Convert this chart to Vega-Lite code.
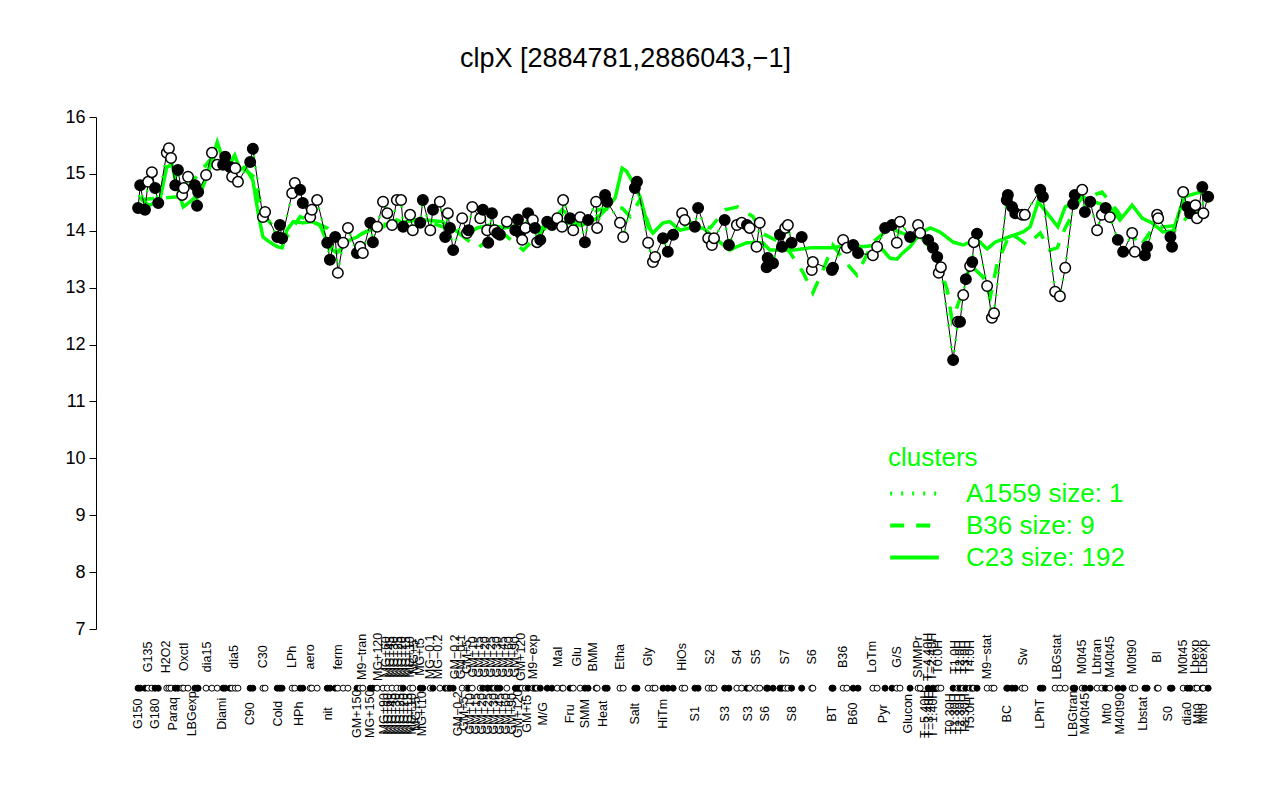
{
"$schema": "https://vega.github.io/schema/vega-lite/v6.json",
"width": 1135, "height": 512,
"autosize": {"type": "none"},
"padding": {"left": 96, "top": 117, "right": 49, "bottom": 171},
"background": "white",
"title": {"text": "clpX [2884781,2886043,−1]", "fontSize": 27, "font": "Liberation Sans", "fontWeight": "normal", "anchor": "middle", "dx": -38, "offset": 35, "color": "black"},
"config": {
 "view": {"stroke": null},
 "font": "Liberation Sans",
 "axisY": {"tickSize": 7, "labelFontSize": 18, "labelColor": "black", "tickColor": "black", "domainColor": "black", "grid": false, "labelPadding": 4, "title": null, "labelFont": "Liberation Sans"}
},
"datasets": {
 "pts": [
{"x":1.2,"v":14.40,"f":"f"},{"x":1.6,"v":14.80,"f":"f"},{"x":2.5,"v":14.37,"f":"f"},{"x":3.1,"v":14.86,"f":"o"},{"x":3.8,"v":15.03,"f":"o"},{"x":4.4,"v":14.75,"f":"f"},{"x":5.0,"v":14.49,"f":"f"},{"x":6.6,"v":15.37,"f":"o"},{"x":7.0,"v":15.45,"f":"o"},{"x":7.4,"v":15.28,"f":"o"},{"x":8.2,"v":14.80,"f":"f"},{"x":8.7,"v":15.07,"f":"f"},{"x":9.5,"v":14.63,"f":"o"},{"x":9.8,"v":14.75,"f":"o"},{"x":10.6,"v":14.95,"f":"o"},{"x":11.9,"v":14.80,"f":"f"},{"x":12.3,"v":14.44,"f":"f"},{"x":12.5,"v":14.68,"f":"f"},{"x":14.0,"v":14.98,"f":"o"},{"x":15.1,"v":15.37,"f":"o"},{"x":16.1,"v":15.16,"f":"o"},{"x":17.2,"v":15.16,"f":"f"},{"x":17.6,"v":15.30,"f":"f"},{"x":18.5,"v":15.12,"f":"f"},{"x":18.9,"v":14.95,"f":"o"},{"x":19.5,"v":15.10,"f":"o"},{"x":20.0,"v":14.86,"f":"o"},{"x":22.3,"v":15.21,"f":"f"},{"x":22.8,"v":15.44,"f":"f"},{"x":24.7,"v":14.24,"f":"o"},{"x":25.1,"v":14.33,"f":"o"},{"x":27.4,"v":13.89,"f":"f"},{"x":27.9,"v":14.10,"f":"f"},{"x":28.3,"v":13.87,"f":"f"},{"x":30.2,"v":14.66,"f":"o"},{"x":30.7,"v":14.84,"f":"o"},{"x":31.7,"v":14.72,"f":"f"},{"x":32.2,"v":14.49,"f":"f"},{"x":33.6,"v":14.24,"f":"o"},{"x":33.9,"v":14.37,"f":"o"},{"x":34.9,"v":14.54,"f":"o"},{"x":36.8,"v":13.79,"f":"f"},{"x":37.3,"v":13.49,"f":"f"},{"x":38.3,"v":13.89,"f":"f"},{"x":38.8,"v":13.26,"f":"o"},{"x":39.8,"v":13.79,"f":"o"},{"x":40.7,"v":14.05,"f":"o"},{"x":42.4,"v":13.61,"f":"f"},{"x":43.0,"v":13.72,"f":"o"},{"x":43.5,"v":13.61,"f":"o"},{"x":44.9,"v":14.14,"f":"f"},{"x":45.4,"v":13.80,"f":"f"},{"x":46.2,"v":14.07,"f":"o"},{"x":47.3,"v":14.51,"f":"o"},{"x":48.1,"v":14.31,"f":"o"},{"x":49.0,"v":14.10,"f":"o"},{"x":49.9,"v":14.54,"f":"o"},
{"x":50.7,"v":14.54,"f":"o"},{"x":51.1,"v":14.07,"f":"f"},{"x":52.4,"v":14.28,"f":"o"},{"x":52.9,"v":14.01,"f":"o"},{"x":54.3,"v":14.14,"f":"f"},{"x":54.8,"v":14.54,"f":"f"},{"x":56.2,"v":14.01,"f":"o"},{"x":56.7,"v":14.37,"f":"f"},{"x":58.0,"v":14.51,"f":"o"},{"x":59.0,"v":13.89,"f":"f"},{"x":59.5,"v":14.31,"f":"o"},{"x":59.9,"v":14.05,"f":"f"},{"x":60.5,"v":13.66,"f":"f"},{"x":62.2,"v":14.22,"f":"o"},{"x":63.1,"v":13.96,"f":"o"},{"x":63.4,"v":14.01,"f":"f"},{"x":64.1,"v":14.42,"f":"o"},{"x":65.6,"v":14.22,"f":"o"},{"x":66.1,"v":14.37,"f":"f"},{"x":66.9,"v":14.01,"f":"o"},{"x":67.1,"v":13.79,"f":"f"},{"x":67.8,"v":14.31,"f":"f"},{"x":68.3,"v":14.01,"f":"o"},{"x":68.8,"v":13.96,"f":"f"},{"x":69.3,"v":13.93,"f":"f"},{"x":70.6,"v":14.16,"f":"o"},{"x":72.2,"v":14.01,"f":"f"},{"x":72.7,"v":14.20,"f":"f"},{"x":73.1,"v":13.96,"f":"f"},{"x":73.5,"v":13.84,"f":"o"},{"x":74.1,"v":14.05,"f":"o"},{"x":74.6,"v":14.31,"f":"f"},{"x":75.5,"v":14.19,"f":"o"},{"x":75.9,"v":14.05,"f":"f"},{"x":76.3,"v":13.80,"f":"o"},{"x":76.9,"v":13.84,"f":"f"},{"x":78.2,"v":14.16,"f":"f"},{"x":79.1,"v":14.10,"f":"f"},{"x":80.1,"v":14.22,"f":"o"},{"x":81.0,"v":14.07,"f":"o"},{"x":81.2,"v":14.54,"f":"o"},{"x":82.5,"v":14.22,"f":"f"},{"x":83.1,"v":14.01,"f":"o"},{"x":84.4,"v":14.24,"f":"o"},{"x":85.3,"v":13.80,"f":"f"},{"x":85.9,"v":14.19,"f":"f"},{"x":87.4,"v":14.51,"f":"o"},{"x":87.6,"v":14.05,"f":"o"},{"x":89.1,"v":14.63,"f":"f"},{"x":89.5,"v":14.51,"f":"f"},{"x":91.9,"v":14.14,"f":"o"},{"x":92.5,"v":13.89,"f":"o"},{"x":94.7,"v":14.75,"f":"f"},{"x":95.1,"v":14.86,"f":"f"},{"x":97.2,"v":13.79,"f":"o"},{"x":98.1,"v":13.45,"f":"o"},{"x":98.5,"v":13.54,"f":"o"},{"x":100.0,"v":13.87,"f":"f"},{"x":100.9,"v":13.63,"f":"f"},
{"x":101.9,"v":13.93,"f":"f"},{"x":103.6,"v":14.31,"f":"o"},{"x":104.1,"v":14.19,"f":"o"},{"x":106.0,"v":14.07,"f":"f"},{"x":106.6,"v":14.40,"f":"f"},{"x":108.5,"v":13.87,"f":"o"},{"x":109.2,"v":13.75,"f":"o"},{"x":109.6,"v":13.87,"f":"o"},{"x":111.6,"v":14.19,"f":"f"},{"x":112.4,"v":13.75,"f":"f"},{"x":113.9,"v":14.10,"f":"o"},{"x":114.8,"v":14.14,"f":"o"},{"x":115.8,"v":14.10,"f":"f"},{"x":116.3,"v":14.05,"f":"o"},{"x":117.6,"v":13.72,"f":"o"},{"x":118.2,"v":14.14,"f":"o"},{"x":119.5,"v":13.36,"f":"f"},{"x":119.7,"v":13.52,"f":"f"},{"x":120.7,"v":13.43,"f":"f"},{"x":122.0,"v":13.93,"f":"f"},{"x":122.4,"v":13.72,"f":"f"},{"x":123.0,"v":14.05,"f":"o"},{"x":123.5,"v":14.10,"f":"o"},{"x":124.2,"v":13.79,"f":"f"},{"x":126.1,"v":13.89,"f":"f"},{"x":128.0,"v":13.31,"f":"o"},{"x":128.2,"v":13.45,"f":"o"},{"x":131.8,"v":13.31,"f":"f"},{"x":132.0,"v":13.35,"f":"f"},{"x":133.9,"v":13.84,"f":"o"},{"x":134.6,"v":13.70,"f":"o"},{"x":135.8,"v":13.75,"f":"f"},{"x":136.7,"v":13.61,"f":"f"},{"x":139.5,"v":13.57,"f":"o"},{"x":140.3,"v":13.72,"f":"o"},{"x":141.8,"v":14.05,"f":"f"},{"x":143.1,"v":14.10,"f":"f"},{"x":144.0,"v":13.79,"f":"o"},{"x":144.6,"v":14.16,"f":"o"},{"x":146.5,"v":13.89,"f":"f"},{"x":148.0,"v":14.10,"f":"o"},{"x":148.4,"v":13.96,"f":"o"},{"x":149.9,"v":13.84,"f":"f"},{"x":150.8,"v":13.70,"f":"f"},{"x":151.6,"v":13.54,"f":"f"},{"x":151.9,"v":13.26,"f":"o"},{"x":152.3,"v":13.36,"f":"o"},
{"x":154.6,"v":11.73,"f":"f"},{"x":155.5,"v":12.40,"f":"o"},{"x":155.9,"v":12.40,"f":"f"},{"x":156.5,"v":12.87,"f":"o"},{"x":157.0,"v":13.15,"f":"f"},{"x":157.8,"v":13.38,"f":"o"},{"x":158.2,"v":13.45,"f":"f"},{"x":158.5,"v":13.80,"f":"o"},{"x":159.1,"v":13.95,"f":"f"},{"x":161.0,"v":13.03,"f":"o"},{"x":161.9,"v":12.47,"f":"o"},{"x":162.3,"v":12.55,"f":"o"},{"x":164.7,"v":14.54,"f":"f"},{"x":164.9,"v":14.63,"f":"f"},{"x":165.7,"v":14.42,"f":"f"},{"x":166.3,"v":14.31,"f":"f"},{"x":167.6,"v":14.28,"f":"o"},{"x":168.1,"v":14.28,"f":"o"},{"x":171.0,"v":14.72,"f":"f"},{"x":171.5,"v":14.60,"f":"f"},{"x":173.8,"v":12.93,"f":"o"},{"x":174.7,"v":12.85,"f":"o"},{"x":175.7,"v":13.35,"f":"o"},{"x":177.2,"v":14.47,"f":"f"},{"x":177.5,"v":14.63,"f":"f"},{"x":178.9,"v":14.72,"f":"o"},{"x":179.4,"v":14.33,"f":"f"},{"x":180.4,"v":14.51,"f":"f"},{"x":181.7,"v":14.01,"f":"o"},{"x":182.6,"v":14.28,"f":"o"},{"x":183.3,"v":14.40,"f":"f"},{"x":184.1,"v":14.24,"f":"o"},{"x":185.6,"v":13.84,"f":"f"},{"x":186.6,"v":13.63,"f":"f"},{"x":188.3,"v":13.96,"f":"o"},{"x":188.8,"v":13.63,"f":"o"},{"x":190.7,"v":13.57,"f":"f"},{"x":191.1,"v":13.72,"f":"f"},{"x":193.0,"v":14.28,"f":"o"},{"x":193.2,"v":14.22,"f":"o"},{"x":195.5,"v":13.89,"f":"f"},{"x":195.8,"v":13.72,"f":"f"},{"x":197.9,"v":14.68,"f":"o"},{"x":198.7,"v":14.42,"f":"f"},{"x":199.2,"v":14.31,"f":"f"},{"x":200.2,"v":14.45,"f":"o"},{"x":200.5,"v":14.22,"f":"o"},{"x":201.5,"v":14.77,"f":"f"},{"x":201.7,"v":14.31,"f":"o"},{"x":202.6,"v":14.60,"f":"f"}
 ],
 "gl": [
{"x":1.6,"v":14.59,"c":"C23 size: 192"},{"x":2.5,"v":14.49,"c":"C23 size: 192"},{"x":3.4,"v":14.45,"c":"C23 size: 192"},{"x":5.3,"v":14.54,"c":"C23 size: 192"},{"x":6.6,"v":15.12,"c":"C23 size: 192"},{"x":7.6,"v":15.16,"c":"C23 size: 192"},{"x":8.5,"v":14.77,"c":"C23 size: 192"},{"x":9.7,"v":14.42,"c":"C23 size: 192"},{"x":11.4,"v":14.54,"c":"C23 size: 192"},{"x":13.2,"v":14.72,"c":"C23 size: 192"},{"x":14.4,"v":15.03,"c":"C23 size: 192"},{"x":16.1,"v":15.56,"c":"C23 size: 192"},{"x":17.0,"v":15.30,"c":"C23 size: 192"},{"x":18.5,"v":15.19,"c":"C23 size: 192"},{"x":19.4,"v":15.33,"c":"C23 size: 192"},{"x":20.4,"v":15.07,"c":"C23 size: 192"},{"x":21.3,"v":15.12,"c":"C23 size: 192"},{"x":22.8,"v":14.89,"c":"C23 size: 192"},{"x":23.8,"v":14.31,"c":"C23 size: 192"},{"x":24.7,"v":13.89,"c":"C23 size: 192"},{"x":26.0,"v":13.80,"c":"C23 size: 192"},{"x":27.4,"v":13.72,"c":"C23 size: 192"},{"x":28.3,"v":13.70,"c":"C23 size: 192"},{"x":29.2,"v":14.01,"c":"C23 size: 192"},{"x":30.4,"v":14.16,"c":"C23 size: 192"},{"x":32.2,"v":14.14,"c":"C23 size: 192"},{"x":33.9,"v":14.16,"c":"C23 size: 192"},{"x":35.4,"v":14.10,"c":"C23 size: 192"},{"x":36.4,"v":13.89,"c":"C23 size: 192"},{"x":37.3,"v":13.70,"c":"C23 size: 192"},{"x":38.6,"v":13.61,"c":"C23 size: 192"},{"x":39.8,"v":13.72,"c":"C23 size: 192"},{"x":41.1,"v":13.84,"c":"C23 size: 192"},{"x":42.4,"v":13.89,"c":"C23 size: 192"},{"x":43.5,"v":13.96,"c":"C23 size: 192"},{"x":44.9,"v":14.01,"c":"C23 size: 192"},{"x":47.3,"v":14.07,"c":"C23 size: 192"},{"x":49.9,"v":14.19,"c":"C23 size: 192"},{"x":50.9,"v":14.15,"c":"C23 size: 192"},{"x":54.3,"v":14.20,"c":"C23 size: 192"},{"x":58.4,"v":14.16,"c":"C23 size: 192"},{"x":60.9,"v":14.01,"c":"C23 size: 192"},{"x":62.7,"v":13.90,"c":"C23 size: 192"},{"x":65.0,"v":14.05,"c":"C23 size: 192"},{"x":67.4,"v":14.10,"c":"C23 size: 192"},{"x":70.2,"v":14.05,"c":"C23 size: 192"},{"x":73.1,"v":14.10,"c":"C23 size: 192"},{"x":76.9,"v":14.05,"c":"C23 size: 192"},{"x":81.2,"v":14.15,"c":"C23 size: 192"},{"x":84.8,"v":14.10,"c":"C23 size: 192"},{"x":87.6,"v":14.22,"c":"C23 size: 192"},{"x":89.5,"v":14.40,"c":"C23 size: 192"},{"x":91.0,"v":14.58,"c":"C23 size: 192"},{"x":92.3,"v":15.10,"c":"C23 size: 192"},{"x":93.1,"v":15.05,"c":"C23 size: 192"},{"x":94.4,"v":14.84,"c":"C23 size: 192"},{"x":95.7,"v":14.59,"c":"C23 size: 192"},{"x":97.2,"v":14.07,"c":"C23 size: 192"},{"x":98.1,"v":13.96,"c":"C23 size: 192"},{"x":100.0,"v":14.14,"c":"C23 size: 192"},{"x":101.3,"v":14.16,"c":"C23 size: 192"},{"x":103.2,"v":14.01,"c":"C23 size: 192"},{"x":105.1,"v":14.05,"c":"C23 size: 192"},{"x":107.5,"v":14.05,"c":"C23 size: 192"},{"x":110.7,"v":13.80,"c":"C23 size: 192"},{"x":112.6,"v":13.66,"c":"C23 size: 192"},{"x":113.9,"v":13.72,"c":"C23 size: 192"},{"x":115.8,"v":13.79,"c":"C23 size: 192"},{"x":118.8,"v":13.79,"c":"C23 size: 192"},{"x":120.1,"v":13.66,"c":"C23 size: 192"},{"x":122.0,"v":13.66,"c":"C23 size: 192"},{"x":124.5,"v":13.66,"c":"C23 size: 192"},{"x":127.7,"v":13.70,"c":"C23 size: 192"},{"x":132.0,"v":13.70,"c":"C23 size: 192"},{"x":134.6,"v":13.75,"c":"C23 size: 192"},{"x":137.6,"v":13.72,"c":"C23 size: 192"},{"x":140.3,"v":13.75,"c":"C23 size: 192"},{"x":141.4,"v":13.66,"c":"C23 size: 192"},{"x":142.7,"v":13.52,"c":"C23 size: 192"},{"x":144.0,"v":13.50,"c":"C23 size: 192"},{"x":145.1,"v":13.61,"c":"C23 size: 192"},{"x":146.5,"v":13.72,"c":"C23 size: 192"},{"x":148.4,"v":13.96,"c":"C23 size: 192"},{"x":150.3,"v":14.05,"c":"C23 size: 192"},{"x":152.1,"v":13.98,"c":"C23 size: 192"},{"x":154.6,"v":13.80,"c":"C23 size: 192"},{"x":156.5,"v":13.75,"c":"C23 size: 192"},{"x":159.1,"v":13.85,"c":"C23 size: 192"},{"x":161.0,"v":13.68,"c":"C23 size: 192"},{"x":162.5,"v":13.80,"c":"C23 size: 192"},{"x":165.3,"v":13.90,"c":"C23 size: 192"},{"x":167.8,"v":13.98,"c":"C23 size: 192"},{"x":169.1,"v":14.07,"c":"C23 size: 192"},{"x":170.6,"v":14.51,"c":"C23 size: 192"},{"x":172.3,"v":14.31,"c":"C23 size: 192"},{"x":174.3,"v":14.07,"c":"C23 size: 192"},{"x":175.7,"v":14.42,"c":"C23 size: 192"},{"x":178.9,"v":14.60,"c":"C23 size: 192"},{"x":181.7,"v":14.49,"c":"C23 size: 192"},{"x":184.1,"v":14.42,"c":"C23 size: 192"},{"x":186.0,"v":14.19,"c":"C23 size: 192"},{"x":188.3,"v":14.45,"c":"C23 size: 192"},{"x":190.2,"v":14.22,"c":"C23 size: 192"},{"x":192.0,"v":14.14,"c":"C23 size: 192"},{"x":194.1,"v":13.98,"c":"C23 size: 192"},{"x":196.0,"v":14.00,"c":"C23 size: 192"},{"x":197.3,"v":14.37,"c":"C23 size: 192"},{"x":198.2,"v":14.60,"c":"C23 size: 192"},{"x":201.1,"v":14.68,"c":"C23 size: 192"},{"x":202.6,"v":14.60,"c":"C23 size: 192"},
{"x":1.6,"v":14.55,"c":"B36 size: 9"},{"x":9.1,"v":14.60,"c":"B36 size: 9"},{"x":16.1,"v":15.40,"c":"B36 size: 9"},{"x":20.4,"v":15.15,"c":"B36 size: 9"},{"x":23.2,"v":14.93,"c":"B36 size: 9"},{"x":24.5,"v":14.30,"c":"B36 size: 9"},{"x":28.9,"v":13.85,"c":"B36 size: 9"},{"x":31.7,"v":14.25,"c":"B36 size: 9"},{"x":36.8,"v":14.05,"c":"B36 size: 9"},{"x":40.2,"v":13.80,"c":"B36 size: 9"},{"x":46.7,"v":14.10,"c":"B36 size: 9"},{"x":54.3,"v":14.20,"c":"B36 size: 9"},{"x":60.9,"v":14.00,"c":"B36 size: 9"},{"x":65.2,"v":13.70,"c":"B36 size: 9"},{"x":69.3,"v":14.00,"c":"B36 size: 9"},{"x":73.7,"v":13.66,"c":"B36 size: 9"},{"x":77.8,"v":14.05,"c":"B36 size: 9"},{"x":81.0,"v":14.37,"c":"B36 size: 9"},{"x":84.4,"v":14.10,"c":"B36 size: 9"},{"x":87.8,"v":14.37,"c":"B36 size: 9"},{"x":92.3,"v":14.40,"c":"B36 size: 9"},{"x":93.8,"v":14.25,"c":"B36 size: 9"},{"x":95.7,"v":14.55,"c":"B36 size: 9"},{"x":97.9,"v":13.95,"c":"B36 size: 9"},{"x":100.4,"v":13.90,"c":"B36 size: 9"},{"x":105.1,"v":14.15,"c":"B36 size: 9"},{"x":108.9,"v":14.05,"c":"B36 size: 9"},{"x":111.7,"v":14.37,"c":"B36 size: 9"},{"x":114.1,"v":14.42,"c":"B36 size: 9"},{"x":116.9,"v":14.25,"c":"B36 size: 9"},{"x":118.8,"v":13.95,"c":"B36 size: 9"},{"x":123.0,"v":13.75,"c":"B36 size: 9"},{"x":126.4,"v":13.26,"c":"B36 size: 9"},{"x":128.2,"v":12.91,"c":"B36 size: 9"},{"x":130.1,"v":13.31,"c":"B36 size: 9"},{"x":132.0,"v":13.75,"c":"B36 size: 9"},{"x":133.9,"v":13.50,"c":"B36 size: 9"},{"x":136.5,"v":13.22,"c":"B36 size: 9"},{"x":139.5,"v":13.80,"c":"B36 size: 9"},{"x":142.7,"v":14.05,"c":"B36 size: 9"},{"x":145.2,"v":13.95,"c":"B36 size: 9"},{"x":148.4,"v":13.90,"c":"B36 size: 9"},{"x":151.2,"v":13.60,"c":"B36 size: 9"},{"x":153.5,"v":12.96,"c":"B36 size: 9"},{"x":154.4,"v":12.43,"c":"B36 size: 9"},{"x":155.9,"v":12.80,"c":"B36 size: 9"},{"x":157.8,"v":13.40,"c":"B36 size: 9"},{"x":160.2,"v":13.19,"c":"B36 size: 9"},{"x":161.6,"v":12.84,"c":"B36 size: 9"},{"x":162.9,"v":13.43,"c":"B36 size: 9"},{"x":165.3,"v":13.95,"c":"B36 size: 9"},{"x":166.8,"v":13.87,"c":"B36 size: 9"},{"x":168.5,"v":13.75,"c":"B36 size: 9"},{"x":171.0,"v":13.96,"c":"B36 size: 9"},{"x":172.8,"v":13.66,"c":"B36 size: 9"},{"x":174.2,"v":13.70,"c":"B36 size: 9"},{"x":175.7,"v":14.05,"c":"B36 size: 9"},{"x":178.5,"v":14.54,"c":"B36 size: 9"},{"x":182.6,"v":14.68,"c":"B36 size: 9"},{"x":185.5,"v":14.35,"c":"B36 size: 9"},{"x":187.9,"v":14.00,"c":"B36 size: 9"},{"x":189.8,"v":13.72,"c":"B36 size: 9"},{"x":192.2,"v":14.05,"c":"B36 size: 9"},{"x":197.3,"v":14.10,"c":"B36 size: 9"},{"x":201.1,"v":14.50,"c":"B36 size: 9"}
 ],
 "labs": [
{"x":3.07,"t":"G135","r":"u"},{"x":6.46,"t":"H2O2","r":"u"},{"x":9.85,"t":"Oxctl","r":"u"},{"x":14.18,"t":"dia15","r":"u"},{"x":19.26,"t":"dia5","r":"u"},{"x":24.72,"t":"C30","r":"u"},{"x":30.17,"t":"LPh","r":"u"},{"x":33.56,"t":"aero","r":"u"},{"x":38.83,"t":"ferm","r":"u"},{"x":43.35,"t":"M9−tran","r":"u"},{"x":46.36,"t":"MG+120","r":"u"},{"x":47.87,"t":"MG+60","r":"u"},{"x":48.62,"t":"MG+45","r":"u"},{"x":49.37,"t":"MG+30","r":"u"},{"x":50.13,"t":"MG+25","r":"u"},{"x":50.88,"t":"MG+20","r":"u"},{"x":51.63,"t":"MG+15","r":"u"},{"x":52.39,"t":"MG+10","r":"u"},{"x":53.14,"t":"MG+5","r":"u"},{"x":54.27,"t":"MG+t5","r":"u"},{"x":56.15,"t":"MG−0.1","r":"u"},{"x":57.66,"t":"MG−0.2","r":"u"},{"x":60.85,"t":"GM−0.2","r":"u"},{"x":61.98,"t":"GM−0.1","r":"u"},{"x":63.11,"t":"GM+5","r":"u"},{"x":64.24,"t":"GM+10","r":"u"},{"x":65.37,"t":"GM+15","r":"u"},{"x":66.50,"t":"GM+20","r":"u"},{"x":67.63,"t":"GM+25","r":"u"},{"x":68.76,"t":"GM+30","r":"u"},{"x":69.89,"t":"GM+45","r":"u"},{"x":71.02,"t":"GM+60","r":"u"},{"x":72.15,"t":"GM+90","r":"u"},{"x":73.28,"t":"GM+120","r":"u"},{"x":75.54,"t":"M9−exp","r":"u"},{"x":80.24,"t":"Mal","r":"u"},{"x":83.82,"t":"Glu","r":"u"},{"x":86.83,"t":"BMM","r":"u"},{"x":91.91,"t":"Etha","r":"u"},{"x":97.18,"t":"Gly","r":"u"},{"x":103.58,"t":"HiOs","r":"u"},{"x":108.85,"t":"S2","r":"u"},{"x":113.93,"t":"S4","r":"u"},{"x":117.5,"t":"S5","r":"u"},{"x":122.97,"t":"S7","r":"u"},{"x":128.05,"t":"S6","r":"u"},{"x":133.88,"t":"B36","r":"u"},{"x":139.34,"t":"LoTm","r":"u"},{"x":144.05,"t":"G/S","r":"u"},{"x":148.0,"t":"SMMPr","r":"u"},{"x":149.88,"t":"T−4.40H","r":"u"},{"x":150.63,"t":"T−2.40H","r":"u"},{"x":151.76,"t":"T0.0H","r":"u"},{"x":154.96,"t":"T1.0H","r":"u"},{"x":155.9,"t":"T2.0H","r":"u"},{"x":156.84,"t":"T3.0H","r":"u"},{"x":157.79,"t":"T4.0H","r":"u"},{"x":160.99,"t":"M9−stat","r":"u"},{"x":167.77,"t":"Sw","r":"u"},{"x":174.17,"t":"LBGstat","r":"u"},{"x":178.87,"t":"M0t45","r":"u"},{"x":181.69,"t":"Lbtran","r":"u"},{"x":184.14,"t":"M40t45","r":"u"},{"x":188.28,"t":"M0t90","r":"u"},{"x":192.98,"t":"BI","r":"u"},{"x":197.88,"t":"M0t45","r":"u"},{"x":200.14,"t":"Lbexp","r":"u"},{"x":201.64,"t":"Lbexp","r":"u"},
{"x":1.19,"t":"G150","r":"l"},{"x":4.39,"t":"G180","r":"l"},{"x":7.78,"t":"Paraq","r":"l"},{"x":11.35,"t":"LBGexp","r":"l"},{"x":17.0,"t":"Diami","r":"l"},{"x":22.27,"t":"C90","r":"l"},{"x":27.54,"t":"Cold","r":"l"},{"x":31.49,"t":"HPh","r":"l"},{"x":36.95,"t":"nit","r":"l"},{"x":42.41,"t":"GM+150","r":"l"},{"x":44.86,"t":"MG+150","r":"l"},{"x":47.49,"t":"MG+90","r":"l"},{"x":48.24,"t":"MG+60","r":"l"},{"x":49.0,"t":"MG+45","r":"l"},{"x":49.75,"t":"MG+30","r":"l"},{"x":50.5,"t":"MG+25","r":"l"},{"x":51.25,"t":"MG+20","r":"l"},{"x":52.01,"t":"MG+15","r":"l"},{"x":52.76,"t":"MG+10","r":"l"},{"x":53.51,"t":"MG+5","r":"l"},{"x":54.64,"t":"MG+t10","r":"l"},{"x":61.42,"t":"GM−0.2","r":"l"},{"x":62.55,"t":"GM+5","r":"l"},{"x":63.68,"t":"GM+10","r":"l"},{"x":64.81,"t":"GM+15","r":"l"},{"x":65.94,"t":"GM+20","r":"l"},{"x":67.07,"t":"GM+25","r":"l"},{"x":68.19,"t":"GM+30","r":"l"},{"x":69.32,"t":"GM+45","r":"l"},{"x":70.45,"t":"GM+60","r":"l"},{"x":71.58,"t":"GM+90","r":"l"},{"x":72.71,"t":"GM+120","r":"l"},{"x":74.41,"t":"GM+t5","r":"l"},{"x":77.42,"t":"M/G","r":"l"},{"x":82.5,"t":"Fru","r":"l"},{"x":85.32,"t":"SMM","r":"l"},{"x":88.71,"t":"Heat","r":"l"},{"x":94.73,"t":"Salt","r":"l"},{"x":100.0,"t":"HiTm","r":"l"},{"x":106.02,"t":"S1","r":"l"},{"x":111.67,"t":"S3","r":"l"},{"x":116.0,"t":"S3","r":"l"},{"x":119.2,"t":"S6","r":"l"},{"x":124.28,"t":"S8","r":"l"},{"x":131.81,"t":"BT","r":"l"},{"x":135.76,"t":"B60","r":"l"},{"x":141.41,"t":"Pyr","r":"l"},{"x":146.11,"t":"Glucon","r":"l"},{"x":149.32,"t":"T−5.40H","r":"l"},{"x":150.07,"t":"T−3.40H","r":"l"},{"x":150.82,"t":"T−1.40H","r":"l"},{"x":154.02,"t":"T0.30H","r":"l"},{"x":154.96,"t":"T1.30H","r":"l"},{"x":155.9,"t":"T2.30H","r":"l"},{"x":156.84,"t":"T3.30H","r":"l"},{"x":157.79,"t":"T5.0H","r":"l"},{"x":164.75,"t":"BC","r":"l"},{"x":170.96,"t":"LPhT","r":"l"},{"x":177.17,"t":"LBGtran","r":"l"},{"x":179.43,"t":"M40t45","r":"l"},{"x":183.57,"t":"Mt0","r":"l"},{"x":186.02,"t":"M40t90","r":"l"},{"x":190.35,"t":"Lbstat","r":"l"},{"x":195.05,"t":"S0","r":"l"},{"x":198.63,"t":"dia0","r":"l"},{"x":200.7,"t":"Mt0","r":"l"},{"x":201.64,"t":"Mt0","r":"l"}
 ]
},
"layer": [
 {"data": {"name": "gl"},
  "mark": {"type": "line", "color": "#00ff00", "strokeWidth": 3.5},
  "encoding": {
   "x": {"field": "x", "type": "quantitative", "scale": {"domain": [-6.72, 206.9], "nice": false, "zero": false}, "axis": null},
   "y": {"field": "v", "type": "quantitative", "scale": {"domain": [7, 16], "nice": false, "zero": false}, "title": null,
     "axis": {"values": [7, 8, 9, 10, 11, 12, 13, 14, 15, 16], "format": "d", "tickSize": 7, "labelFontSize": 18, "grid": false}},
   "strokeDash": {"field": "c", "type": "nominal",
     "scale": {"domain": ["A1559 size: 1", "B36 size: 9", "C23 size: 192"], "range": [[2, 9], [14, 12], [1, 0]]},
     "legend": {"orient": "none", "legendX": 792, "legendY": 328, "title": "clusters", "titleColor": "#00ff00", "titleFontSize": 26, "titleFontWeight": "normal", "titleFont": "Liberation Sans", "titlePadding": 4, "labelColor": "#00ff00", "labelFontSize": 26, "labelFont": "Liberation Sans", "labelLimit": 400, "symbolType": "M-1.5,0H1.5", "symbolSize": 1050, "symbolOffset": 8, "symbolStrokeWidth": 4, "symbolStrokeColor": "#00ff00", "labelOffset": 33, "rowPadding": 0, "padding": 0}}
  }},
 {"data": {"name": "pts"},
  "mark": {"type": "line", "color": "black", "strokeWidth": 1},
  "encoding": {
   "x": {"field": "x", "type": "quantitative", "axis": null},
   "y": {"field": "v", "type": "quantitative", "title": null}
  }},
 {"data": {"name": "pts"},
  "mark": {"type": "line", "color": "#00ff00", "strokeWidth": 2.5},
  "encoding": {
   "x": {"field": "x", "type": "quantitative", "axis": null},
   "y": {"field": "v", "type": "quantitative", "title": null},
   "strokeDash": {"datum": "A1559 size: 1", "type": "nominal"}
  }},
 {"data": {"name": "pts"},
  "mark": {"type": "point", "shape": "circle", "filled": true, "size": 110, "stroke": "black", "strokeWidth": 1.5, "opacity": 1},
  "encoding": {
   "x": {"field": "x", "type": "quantitative", "axis": null},
   "y": {"field": "v", "type": "quantitative", "title": null},
   "fill": {"field": "f", "type": "nominal", "scale": {"domain": ["f", "o"], "range": ["black", "white"]}, "legend": null}
  }},
 {"data": {"name": "pts"},
  "mark": {"type": "point", "shape": "circle", "filled": true, "size": 36, "stroke": "black", "strokeWidth": 1, "opacity": 1},
  "encoding": {
   "x": {"field": "x", "type": "quantitative", "axis": null},
   "y": {"datum": 5.96, "type": "quantitative", "title": null},
   "fill": {"field": "f", "type": "nominal", "legend": null}
  }},
 {"data": {"name": "labs"},
  "transform": [{"filter": "datum.r == 'u'"}],
  "mark": {"type": "text", "angle": 270, "align": "center", "baseline": "middle", "fontSize": 12.5, "font": "Liberation Sans", "color": "black"},
  "encoding": {
   "x": {"field": "x", "type": "quantitative", "axis": null},
   "y": {"datum": 6.51, "type": "quantitative", "title": null},
   "text": {"field": "t"}
  }},
 {"data": {"name": "labs"},
  "transform": [{"filter": "datum.r == 'l'"}],
  "mark": {"type": "text", "angle": 270, "align": "center", "baseline": "middle", "fontSize": 12.5, "font": "Liberation Sans", "color": "black"},
  "encoding": {
   "x": {"field": "x", "type": "quantitative", "axis": null},
   "y": {"datum": 5.51, "type": "quantitative", "title": null},
   "text": {"field": "t"}
  }}
]
}
